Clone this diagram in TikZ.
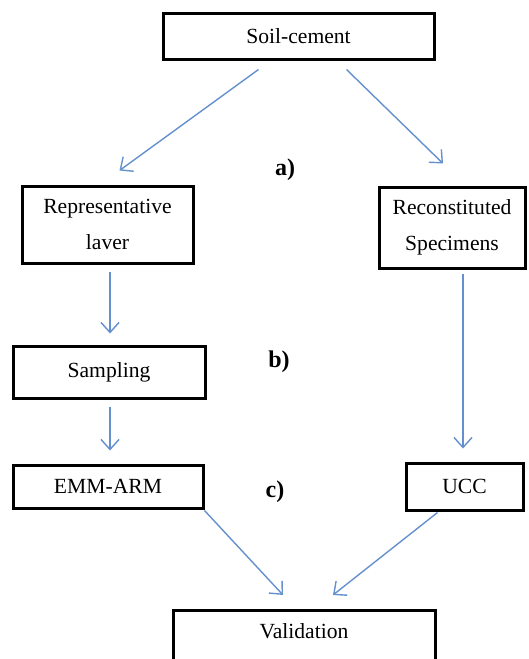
\documentclass[tikz,border=0pt]{standalone}
\usepackage{fontspec}
\setmainfont{Liberation Serif}
\usetikzlibrary{arrows.meta,calc}
\definecolor{arblue}{RGB}{100,145,205}
\tikzset{
  box/.style={draw=black, line width=1.5pt, align=center, inner sep=2pt,
              font=\fontsize{10.8}{18}\selectfont},
  ar/.style={-{Straight Barb[length=5pt,width=9pt]}, draw=arblue, line width=0.7pt},
  lbl/.style={font=\fontsize{12}{14}\selectfont\bfseries},
}

\begin{document}
\begin{tikzpicture}[x=0.5pt,y=-0.5pt]
\useasboundingbox (0,0) rectangle (529,659);
\clip (0,0) rectangle (529,659);
\node[box, minimum width=135.5pt, minimum height=23pt] (soil) at (298.5,36) {Soil-cement};
\node[box, minimum width=85.5pt, minimum height=38.5pt] (rep) at (107.5,224.5) {Representative\\laver};
\node[box, minimum width=73pt, minimum height=40.5pt] (rec) at (452,227.5) {Reconstituted\\Specimens};
\node[box, minimum width=96pt, minimum height=26pt] (samp) at (109,372) {Sampling};
\node[box, minimum width=95pt, minimum height=21.5pt] (emm) at (108,486.5) {EMM-ARM};
\node[box, minimum width=58.5pt, minimum height=23.5pt] (ucc) at (464.5,486.5) {UCC};
\node[box, anchor=north, minimum width=131pt, text height=8pt, text depth=40pt, inner ysep=6pt] (val) at (304,609) {Validation};

\node[lbl] (la) at (285,170) {a)};
\node[lbl] (lb) at (279,362) {b)};
\node[lbl] (lc) at (275,492) {c)};

\draw[ar] ($(soil.south)+(-40,9)$) -- ($(rep.north)+(12,-14)$);
\draw[ar] ($(soil.south)+(48,9)$) -- ($(rec.north)+(-9,-22)$);
\draw[ar] ($(rep.south)+(2.5,7)$) -- ($(samp.north)+(1,-11)$);
\draw[ar] ($(samp.south)+(1,7)$) -- ($(emm.north)+(2,-13)$);
\draw[ar] ($(rec.south)+(11,4)$) -- ($(ucc.north)+(-1.5,-13)$);
\draw[ar] ($(emm.south east)+(0,1)$) -- ($(val.north)+(-21,-14)$);
\draw[ar] ($(ucc.south)+(-27,1)$) -- ($(val.north)+(29,-14)$);
\end{tikzpicture}
\end{document}
